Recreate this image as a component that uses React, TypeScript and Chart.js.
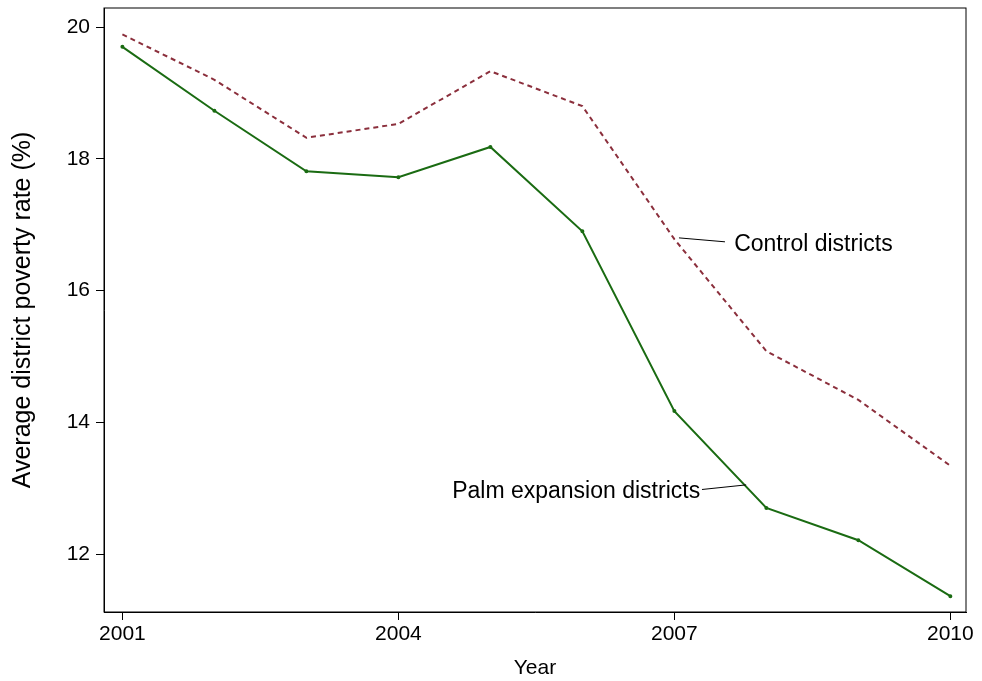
import React, { useEffect, useRef } from "react";
import { Chart, registerables } from "chart.js";
Chart.register(...registerables);

const years = [2001, 2002, 2003, 2004, 2005, 2006, 2007, 2008, 2009, 2010];
const palm = [19.7, 18.73, 17.81, 17.72, 18.18, 16.9, 14.17, 12.7, 12.21, 11.36];
const control = [19.89, 19.2, 18.32, 18.53, 19.33, 18.8, 16.78, 15.08, 14.34, 13.34];
const xTicks = [2001, 2004, 2007, 2010];
const yTicks = [12, 14, 16, 18, 20];

const FONT = "'Liberation Sans', Arial, sans-serif";

const framePlugin = {
  id: "frame",
  afterDraw(chart: any) {
    const { ctx, chartArea: a, scales } = chart;
    ctx.save();
    ctx.strokeStyle = "#000";
    ctx.lineWidth = 1;
    ctx.strokeRect(a.left, a.top, a.right - a.left, a.bottom - a.top);
    const x = scales.x, y = scales.y;
    ctx.font = `23px ${FONT}`;
    ctx.fillStyle = "#000";
    ctx.textBaseline = "middle";
    ctx.beginPath();
    ctx.moveTo(x.getPixelForValue(2007.05), y.getPixelForValue(16.8));
    ctx.lineTo(x.getPixelForValue(2007.55), y.getPixelForValue(16.74));
    ctx.stroke();
    ctx.textAlign = "left";
    ctx.fillText("Control districts", x.getPixelForValue(2007.65), y.getPixelForValue(16.7));
    ctx.beginPath();
    ctx.moveTo(x.getPixelForValue(2007.3), y.getPixelForValue(12.98));
    ctx.lineTo(x.getPixelForValue(2007.78), y.getPixelForValue(13.05));
    ctx.stroke();
    ctx.textAlign = "right";
    ctx.fillText("Palm expansion districts", x.getPixelForValue(2007.28), y.getPixelForValue(12.95));
    ctx.restore();
  },
};

export default function App() {
  const ref = useRef<HTMLCanvasElement>(null);
  useEffect(() => {
    document.body.style.margin = "0";
    const chart = new Chart(ref.current!, {
      type: "line",
      data: {
        datasets: [
          {
            data: years.map((y, i) => ({ x: y, y: control[i] })),
            borderColor: "#8b2f3c",
            borderDash: [5, 4],
            borderWidth: 2,
            pointRadius: 0,
          },
          {
            data: years.map((y, i) => ({ x: y, y: palm[i] })),
            borderColor: "#1a6b12",
            backgroundColor: "#1a6b12",
            borderWidth: 2,
            pointRadius: 1,
          },
        ],
      },
      options: {
        animation: false,
        responsive: false,
        layout: { padding: { top: 8, right: 16, left: 0, bottom: 0 } },
        plugins: { legend: { display: false }, tooltip: { enabled: false } },
        scales: {
          x: {
            type: "linear",
            min: 2000.8,
            max: 2010.17,
            afterBuildTicks: (s: any) => { s.ticks = xTicks.map((v) => ({ value: v })); },
            afterFit: (s: any) => { s.height = 69; s.paddingLeft = 0; s.paddingRight = 0; },
            grid: { display: true, drawOnChartArea: false, drawTicks: true, tickLength: 8, tickColor: "#000" } as any,
            border: { color: "#000" },
            ticks: { color: "#000", font: { family: FONT, size: 21 }, padding: 2, callback: (v: any) => String(v), maxRotation: 0 },
            title: { display: true, text: "Year", color: "#000", font: { family: FONT, size: 21 }, padding: { top: -6, bottom: 0 } },
          },
          y: {
            min: 11.12,
            max: 20.29,
            afterBuildTicks: (s: any) => { s.ticks = yTicks.map((v) => ({ value: v })); },
            afterFit: (s: any) => { s.width = 104; s.paddingTop = 0; s.paddingBottom = 0; },
            grid: { display: true, drawOnChartArea: false, drawTicks: true, tickLength: 8, tickColor: "#000" } as any,
            border: { color: "#000" },
            ticks: { color: "#000", font: { family: FONT, size: 21 }, padding: 6 },
            title: { display: true, text: "Average district poverty rate (%)", color: "#000", font: { family: FONT, size: 25 }, padding: { top: 8, bottom: 0 } },
          },
        },
      },
      plugins: [framePlugin],
    });
    return () => chart.destroy();
  }, []);
  return <canvas ref={ref} width={982} height={681} style={{ display: "block" }} />;
}
